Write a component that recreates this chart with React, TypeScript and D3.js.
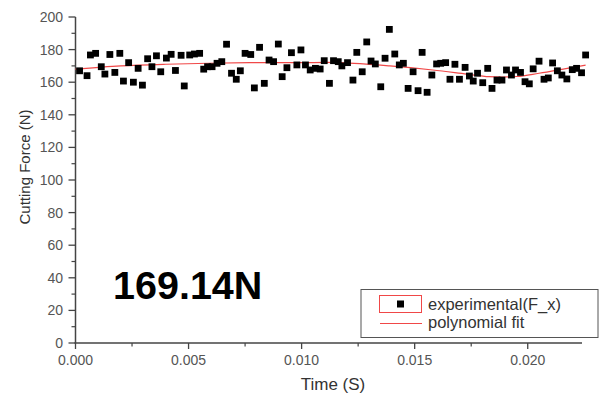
import React from "react";
import * as d3 from "d3";

const times = [0.00018,0.00051,0.00066,0.00089,0.00114,0.00130,0.00152,0.00174,0.00196,0.00212,0.00235,0.00256,0.00277,0.00296,0.00319,0.00338,0.00358,0.00377,0.00402,0.00423,0.00442,
0.00467,0.00481,0.00505,0.00526,0.00549,0.00567,0.00584,0.00604,0.00626,0.00647,
0.00668,0.00690,0.00711,0.00729,0.00750,0.00775,0.00791,0.00814,0.00835,0.00856,
0.00876,0.00897,0.00914,0.00935,0.00955,0.00979,0.00997,0.01017,0.01038,0.01061,
0.01082,0.01100,0.01123,0.01141,0.01162,0.01178,0.01203,0.01227,0.01244,0.01268,
0.01288,0.01307,0.01326,0.01350,0.01369,0.01388,0.01412,0.01432,0.01450,0.01471,
0.01493,0.01515,0.01533,0.01555,0.01576,0.01597,0.01615,0.01637,0.01656,0.01678,
0.01698,0.01723,0.01742,0.01759,0.01778,0.01801,0.01823,0.01842,0.01864,0.01886,
0.01906,0.01928,0.01946,0.01968,0.01988,0.02007,0.02024,0.02050,0.02072,0.02091,
0.02110,0.02131,0.02151,0.02173,0.02197,0.02216,0.02238,0.02256];

const forces = [167,164,176.7,177.7,169.5,165,177,166,177.7,160.7,172,160,168.5,158.2,174.4,169.5,176.2,166.4,174.8,177.1,167.2,
176.5,157.7,176.7,177.3,177.7,168,169.5,169.5,171.6,172.6,
183.3,165.5,161.8,167,177.7,177,156.5,181.4,159.3,173.6,
172.6,183.4,163.4,168.9,178.1,170.6,179.8,170.6,167.5,168.5,
168.1,173.2,159.3,173.2,172.6,170,172,161.3,178.3,166.4,
184.7,173,171.2,157.2,174.7,192.4,177.3,170.6,171.6,156.2,
166.4,154.8,178.3,153.8,164.4,171.2,171.6,172,161.8,171,
161.8,169.1,163.8,160.7,165.5,159.7,168.5,156.2,161.3,161.3,
167.5,164.4,167.5,166,160.3,159,168.2,172.9,161.8,162.6,
171.8,167,164.4,162,167.7,168.5,165.8,176.7];

const fitTimes = [0, 0.002, 0.004, 0.0077, 0.0099, 0.0117, 0.0139, 0.0158, 0.0173, 0.0183, 0.0195, 0.0205, 0.02256];
const fitValues = [168, 170, 171, 172, 172, 172, 170, 167.5, 165, 163.4, 163.5, 165.5, 170.5];

const xTicks = [0, 0.005, 0.01, 0.015, 0.02];
const xMinorTicks = [0.0025, 0.0075, 0.0125, 0.0175, 0.0225];
const yTicks = [0, 20, 40, 60, 80, 100, 120, 140, 160, 180, 200];
const yMinorTicks = [10, 30, 50, 70, 90, 110, 130, 150, 170, 190];

const annotation = "169.14N";
const legendLabels = ["experimental(F_x)", "polynomial fit"];

export default function App() {
  const x = d3.scaleLinear().domain([0, 0.0224]).range([75.5, 582]);
  const y = d3.scaleLinear().domain([0, 200]).range([343, 17]);
  const axisColor = "#444";
  const font = "Liberation Sans, Arial, sans-serif";
  const fitLine = d3
    .line<number>()
    .x((_, i) => x(fitTimes[i]))
    .y((d) => y(d))
    .curve(d3.curveCatmullRom)(fitValues);
  const ms = 6.8;
  return (
    <svg width={603} height={397} style={{ position: "absolute", left: 0, top: 0, background: "#fff" }} fontFamily={font}>
      <rect width={603} height={397} fill="#fff" />
      {/* y axis */}
      <line x1={x(0)} x2={x(0)} y1={y(200)} y2={y(0)} stroke={axisColor} strokeWidth={1.5} />
      {yTicks.map((t) => (
        <g key={"yt" + t}>
          <line x1={x(0) - 7} x2={x(0)} y1={y(t)} y2={y(t)} stroke={axisColor} strokeWidth={1.3} />
          <text x={63} y={y(t) + 5} fontSize={14} textAnchor="end" fill="#555">{t}</text>
        </g>
      ))}
      {yMinorTicks.map((t) => (
        <line key={"ym" + t} x1={x(0) - 4} x2={x(0)} y1={y(t)} y2={y(t)} stroke={axisColor} strokeWidth={1.2} />
      ))}
      {/* x axis */}
      <line x1={x(0) - 1} x2={x(0.0224)} y1={y(0)} y2={y(0)} stroke={axisColor} strokeWidth={1.5} />
      {xTicks.map((t) => (
        <g key={"xt" + t}>
          <line x1={x(t)} x2={x(t)} y1={y(0)} y2={y(0) + 6} stroke={axisColor} strokeWidth={1.3} />
          <text x={x(t)} y={365} fontSize={14} textAnchor="middle" fill="#555">{t.toFixed(3)}</text>
        </g>
      ))}
      {xMinorTicks.filter((t) => t <= 0.0224).map((t) => (
        <line key={"xm" + t} x1={x(t)} x2={x(t)} y1={y(0)} y2={y(0) + 3.5} stroke={axisColor} strokeWidth={1.2} />
      ))}
      {/* axis titles */}
      <text x={333} y={390} fontSize={17} textAnchor="middle" fill="#333">Time (S)</text>
      <text transform={`translate(30,167) rotate(-90)`} fontSize={15} textAnchor="middle" fill="#333">Cutting Force (N)</text>
      {/* fit line */}
      <path d={fitLine || ""} fill="none" stroke="#f04848" strokeWidth={1.2} />
      {/* points */}
      {times.map((t, i) => (
        <rect key={"p" + i} x={x(t) - ms / 2} y={y(forces[i]) - ms / 2} width={ms} height={ms} fill="#000" />
      ))}
      {/* annotation */}
      <text x={113} y={299} fontSize={39.5} fontWeight="bold" fill="#000">{annotation}</text>
      {/* legend */}
      <rect x={361} y={289.5} width={237} height={48} fill="#fff" stroke="#555" strokeWidth={1} />
      <rect x={379.5} y={295.5} width={42} height={17} fill="none" stroke="#f04848" strokeWidth={1} />
      <rect x={400.5 - 3.5} y={304 - 3.5} width={7} height={7} fill="#000" />
      <text x={428} y={309.5} fontSize={16.5} fill="#333">{legendLabels[0]}</text>
      <line x1={380} x2={422} y1={323.5} y2={323.5} stroke="#f04848" strokeWidth={1.2} />
      <text x={428} y={328} fontSize={16.5} fill="#333">{legendLabels[1]}</text>
    </svg>
  );
}
